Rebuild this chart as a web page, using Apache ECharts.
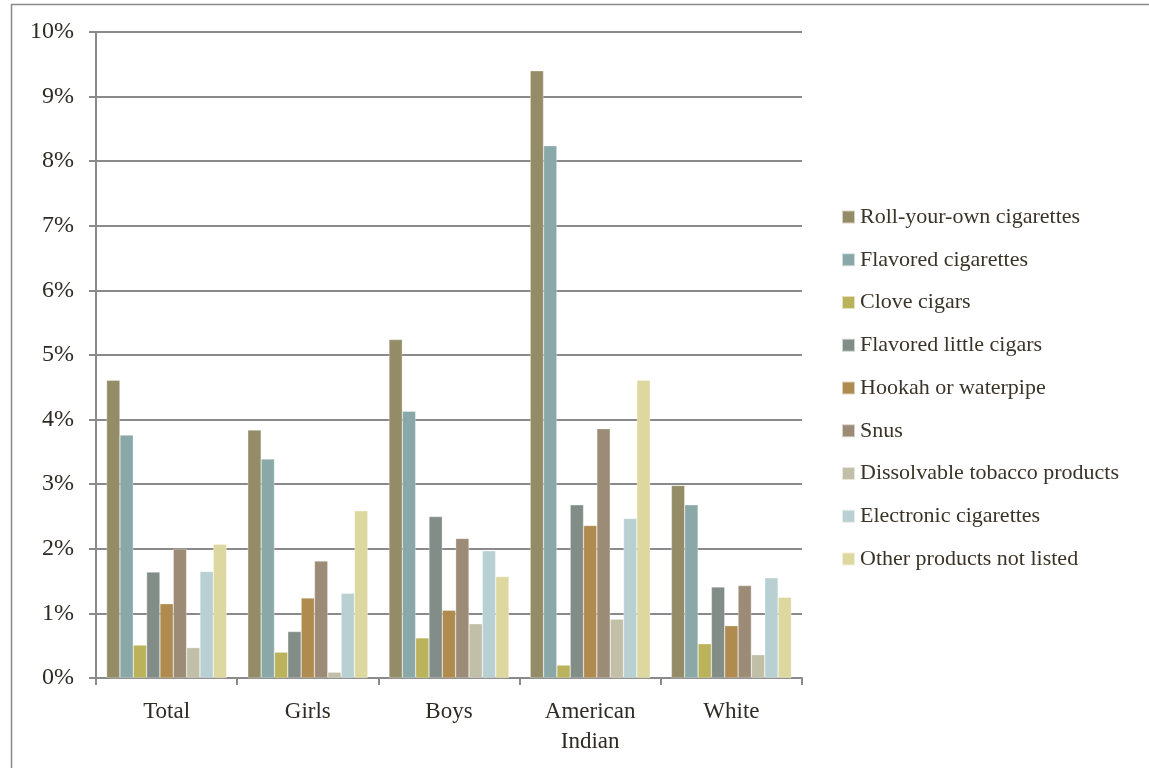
<!DOCTYPE html>
<html><head><meta charset="utf-8">
<script src="https://cdn.jsdelivr.net/npm/echarts@6/dist/echarts.min.js"></script>
<style>html,body{margin:0;padding:0;background:#fff}#c{width:1149px;height:768px}</style>
</head><body><div id="c"></div>
<script>
const categories = ['Total', 'Girls', 'Boys', 'American\nIndian', 'White'];
const seriesNames = ['Roll-your-own cigarettes','Flavored cigarettes','Clove cigars','Flavored little cigars','Hookah or waterpipe','Snus','Dissolvable tobacco products','Electronic cigarettes','Other products not listed'];
const rollYourOwn   = [4.61, 3.84, 5.24, 9.40, 2.98];
const flavoredCig   = [3.76, 3.39, 4.13, 8.24, 2.68];
const cloveCigars   = [0.51, 0.40, 0.62, 0.20, 0.53];
const flavLittle    = [1.64, 0.72, 2.50, 2.68, 1.41];
const hookah        = [1.15, 1.24, 1.05, 2.36, 0.81];
const snus          = [2.00, 1.81, 2.16, 3.86, 1.43];
const dissolvable   = [0.47, 0.09, 0.84, 0.91, 0.36];
const electronic    = [1.65, 1.31, 1.97, 2.47, 1.55];
const otherProducts = [2.07, 2.59, 1.57, 4.61, 1.25];
const yTicks = [0,1,2,3,4,5,6,7,8,9,10];

const values = [rollYourOwn, flavoredCig, cloveCigars, flavLittle, hookah, snus, dissolvable, electronic, otherProducts];
const colors = ['#938c66','#8aa8a8','#bbb35c','#838d88','#b08b4f','#9c8b76','#c2bfa8','#b9d0d2','#ddd8a0'];
const font = '"Liberation Serif", "DejaVu Serif", serif';

const chart = echarts.init(document.getElementById('c'), null, {renderer:'canvas'});
chart.setOption({
  animation: false,
  backgroundColor: '#fff',
  color: colors,
  graphic: [{
    type: 'rect', left: 9, top: 2, shape: {width: 1300, height: 1000},
    style: {fill: 'none', stroke: '#8a8a8a', lineWidth: 1.5}, silent: true, z: -1
  }],
  grid: {left: 96, right: 347, top: 32, bottom: 90},
  legend: {
    orient: 'vertical', left: 836, top: 201,
    itemWidth: 13, itemHeight: 13, itemGap: 20.75,
    icon: 'rect',
    textStyle: {fontFamily: font, fontSize: 22, color: '#3a3328'},
    data: seriesNames
  },
  xAxis: {
    type: 'category', data: categories,
    axisLine: {lineStyle: {color: '#8a8a8a', width: 2}},
    axisTick: {show: true, length: 7, lineStyle: {color: '#8a8a8a', width: 2}},
    axisLabel: {fontFamily: font, fontSize: 23, color: '#2e2a24', margin: 19, lineHeight: 30}
  },
  yAxis: {
    type: 'value', min: 0, max: 10, interval: 1,
    axisLine: {show: true, lineStyle: {color: '#8a8a8a', width: 2}},
    axisTick: {show: true, length: 7, lineStyle: {color: '#8a8a8a', width: 2}},
    splitLine: {lineStyle: {color: '#8a8a8a', width: 2}},
    axisLabel: {fontFamily: font, fontSize: 24, color: '#2e2a24', margin: 22,
      formatter: v => yTicks.includes(v) ? v + '%' : ''}
  },
  series: seriesNames.map((n, i) => ({
    name: n, type: 'bar', data: values[i],
    barGap: '0%', barCategoryGap: '15%',
    itemStyle: {color: colors[i], borderColor: 'rgba(255,255,255,0.6)', borderWidth: 0.5}
  }))
});
</script></body></html>
